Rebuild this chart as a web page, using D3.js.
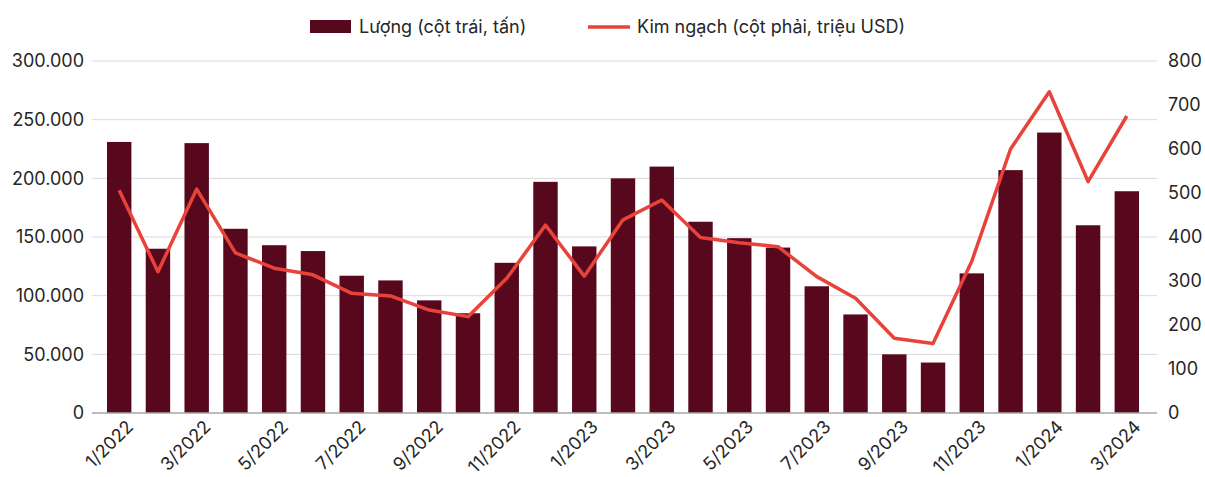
<!DOCTYPE html>
<html>
<head>
<meta charset="utf-8">
<script src="https://cdn.jsdelivr.net/npm/d3@7"></script>
<style>
  body { margin: 0; background: #fff; }
  text { font-family: Inter, "Noto Sans", sans-serif; fill: #262626; }
</style>
</head>
<body>
<div id="chart"></div>
<script>
// dữ liệu
const months = ['1/2022','2/2022','3/2022','4/2022','5/2022','6/2022','7/2022','8/2022','9/2022','10/2022','11/2022','12/2022',
  '1/2023','2/2023','3/2023','4/2023','5/2023','6/2023','7/2023','8/2023','9/2023','10/2023','11/2023','12/2023',
  '1/2024','2/2024','3/2024'];
// Lượng (tấn)
const volume = [231000,140000,230000,157000,143000,138000,117000,113000,96000,85000,128000,197000,
  142000,200000,210000,163000,149000,141000,108000,84000,50000,43000,119000,207000,
  239000,160000,189000];
// Kim ngạch (triệu USD)
const value = [506,321,509,364,329,314,272,266,234,219,306,427,
  311,439,484,399,387,378,310,261,170,158,345,600,
  730,526,675];
const leftTicks = [0,50000,100000,150000,200000,250000,300000];
const rightTicks = [0,100,200,300,400,500,600,700,800];

const data = months.map((m,i) => ({month:m, volume:volume[i], value:value[i]}));

const width = 1205, height = 477;
const fs = '18px';
const fmtVN = d => d3.format(',')(d).replace(/,/g,'.');

const svg = d3.select('#chart').append('svg')
  .attr('width', width).attr('height', height);

const x = d3.scaleBand().domain(months).range([100, 1146]).paddingInner(0.37).paddingOuter(0.18);
const yL = d3.scaleLinear().domain([0,300000]).range([413, 61]);
const yR = d3.scaleLinear().domain([0,800]).range([413, 61]);

// lưới
svg.append('g').selectAll('line').data(leftTicks.slice(1)).join('line')
  .attr('x1', 92).attr('x2', 1157)
  .attr('y1', d => yL(d)).attr('y2', d => yL(d))
  .attr('stroke', '#d9d9d9').attr('stroke-width', 1);

// trục trái
const axL = svg.append('g').attr('transform','translate(92,0)')
  .call(d3.axisLeft(yL).tickValues(leftTicks).tickFormat(fmtVN).tickSize(0).tickPadding(8));
axL.select('.domain').remove();
axL.selectAll('text').style('font-size',fs).style('font-family','Inter, sans-serif').attr('fill','#262626');

// trục phải
const axR = svg.append('g').attr('transform','translate(1157,0)')
  .call(d3.axisRight(yR).tickValues(rightTicks).tickSize(0).tickPadding(11));
axR.select('.domain').remove();
axR.selectAll('text').style('font-size',fs).style('font-family','Inter, sans-serif').attr('fill','#262626');

// cột
svg.append('g').selectAll('rect').data(data).join('rect')
  .attr('x', d => x(d.month))
  .attr('y', d => yL(d.volume))
  .attr('width', x.bandwidth())
  .attr('height', d => yL(0) - yL(d.volume))
  .attr('fill', '#58081c');

// đường gốc
svg.append('line').attr('x1',92).attr('x2',1157).attr('y1',yL(0)).attr('y2',yL(0))
  .attr('stroke','#a6a6a6').attr('stroke-width',1.5);

// đường kim ngạch
const line = d3.line().x(d => x(d.month) + x.bandwidth()/2).y(d => yR(d.value));
svg.append('path').datum(data)
  .attr('d', line).attr('fill','none')
  .attr('stroke','#e8433b').attr('stroke-width',3.5).attr('stroke-linejoin','round');

// nhãn trục x (cách một tháng)
const xAxis = d3.axisBottom(x).tickValues(months.filter((d,i) => i % 2 === 0)).tickSize(0).tickPadding(0);
const axX = svg.append('g').attr('transform','translate(0,413)').call(xAxis);
axX.select('.domain').remove();
axX.selectAll('text')
  .style('font-size',fs).style('font-family','Inter, sans-serif').attr('fill','#262626')
  .attr('text-anchor','end').attr('dy',null).attr('y',0)
  .attr('transform','translate(15,15) rotate(-45)');

// chú giải
const lg = svg.append('g');
lg.append('rect').attr('x',310).attr('y',20).attr('width',41).attr('height',13).attr('fill','#58081c');
lg.append('text').attr('x',359).attr('y',33).style('font-size',fs).text('Lượng (cột trái, tấn)');
lg.append('line').attr('x1',588).attr('x2',630).attr('y1',27).attr('y2',27)
  .attr('stroke','#e8433b').attr('stroke-width',3.5);
lg.append('text').attr('x',637).attr('y',33).style('font-size',fs).text('Kim ngạch (cột phải, triệu USD)');
</script>
</body>
</html>
